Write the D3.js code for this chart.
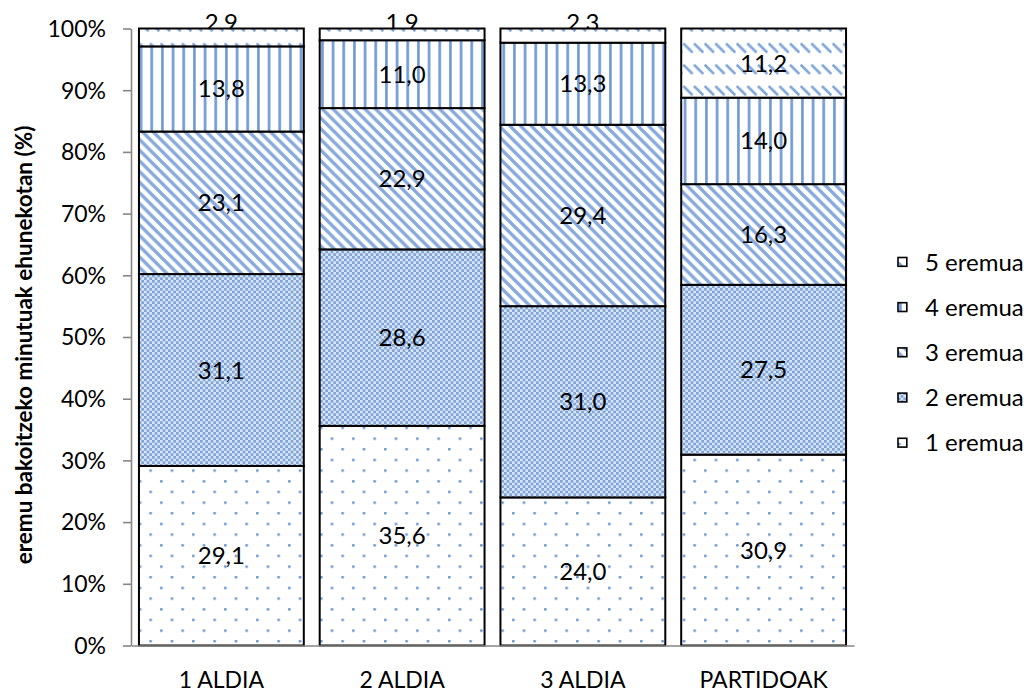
<!DOCTYPE html>
<html>
<head>
<meta charset="utf-8">
<script src="https://cdn.jsdelivr.net/npm/d3@7"></script>
<style>
  html, body { margin: 0; padding: 0; background: #fff; }
  svg { display: block; }
  text { font-family: Lato, "Open Sans", sans-serif; fill: #000; }
</style>
</head>
<body>
<svg id="chart" width="1032" height="695"></svg>
<script>
// Share of minutes spent in each intensity zone, per half and for the full match
const categories = ["1 ALDIA", "2 ALDIA", "3 ALDIA", "PARTIDOAK"];
const zones = ["1 eremua", "2 eremua", "3 eremua", "4 eremua", "5 eremua"];
const zone1 = [29.1, 35.6, 24.0, 30.9];
const zone2 = [31.1, 28.6, 31.0, 27.5];
const zone3 = [23.1, 22.9, 29.4, 16.3];
const zone4 = [13.8, 11.0, 13.3, 14.0];
const zone5 = [2.9, 1.9, 2.3, 11.2];
const yTicks = [0, 0.1, 0.2, 0.3, 0.4, 0.5, 0.6, 0.7, 0.8, 0.9, 1];
const yTitle = "eremu bakoitzeko minutuak ehunekotan (%)";

const zoneValues = [zone1, zone2, zone3, zone4, zone5];
const rows = categories.map((c, i) => {
  const r = { category: c };
  zones.forEach((z, k) => { r[z] = zoneValues[k][i]; });
  return r;
});

const svg = d3.select("#chart");

// ---- fill patterns ----
const defs = svg.append("defs");
const u = 8 / 3; // one pattern cell

// 1 eremua: sparse staggered dots
const p1 = defs.append("pattern").attr("id", "pat-z1")
  .attr("patternUnits", "userSpaceOnUse").attr("width", 8 * u).attr("height", 8 * u);
p1.append("rect").attr("width", 8 * u).attr("height", 8 * u).attr("fill", "#fff");
[[0.5, 0.5], [4.5, 4.5]].forEach(([cx, cy]) =>
  p1.append("circle").attr("cx", cx * u).attr("cy", cy * u).attr("r", 1.45)
    .attr("fill", "#6a97d6"));

// 2 eremua: 50% checker
const p2 = defs.append("pattern").attr("id", "pat-z2")
  .attr("patternUnits", "userSpaceOnUse").attr("width", 2 * u).attr("height", 2 * u);
p2.append("rect").attr("width", 2 * u).attr("height", 2 * u).attr("fill", "#d9e4f4");
p2.append("rect").attr("width", u).attr("height", u).attr("fill", "#7ea4da");
p2.append("rect").attr("x", u).attr("y", u).attr("width", u).attr("height", u).attr("fill", "#7ea4da");

// 3 eremua: downward diagonal stripes
const p3 = defs.append("pattern").attr("id", "pat-z3")
  .attr("patternUnits", "userSpaceOnUse").attr("width", 4 * u).attr("height", 4 * u);
p3.append("rect").attr("width", 4 * u).attr("height", 4 * u).attr("fill", "#fff");
[-4 * u, 0, 4 * u].forEach(c =>
  p3.append("line").attr("x1", -u).attr("y1", -u + c).attr("x2", 5 * u).attr("y2", 5 * u + c)
    .attr("stroke", "#86a9dd").attr("stroke-width", 3.3));

// 4 eremua: thin vertical lines
const p4 = defs.append("pattern").attr("id", "pat-z4")
  .attr("patternUnits", "userSpaceOnUse").attr("width", 4 * u).attr("height", 4 * u);
p4.append("rect").attr("width", 4 * u).attr("height", 4 * u).attr("fill", "#fff");
p4.append("rect").attr("x", 0.4 * u).attr("width", u).attr("height", 4 * u).attr("fill", "#6f9bd8");

// 5 eremua: dashed downward diagonal
const p5 = defs.append("pattern").attr("id", "pat-z5")
  .attr("patternUnits", "userSpaceOnUse").attr("width", 8 * u).attr("height", 8 * u);
p5.append("rect").attr("width", 8 * u).attr("height", 8 * u).attr("fill", "#fff");
[0, 4 * u, 8 * u].forEach(x0 =>
  p5.append("line").attr("x1", x0 - 4 * u + 0.3 * u).attr("y1", 0.3 * u)
    .attr("x2", x0 - 0.3 * u).attr("y2", 3.7 * u)
    .attr("stroke", "#7ea4da").attr("stroke-width", 2.2));
[0, 4 * u, 8 * u].forEach(x0 =>
  p5.append("line").attr("x1", x0 + 0.3 * u).attr("y1", 0.3 * u)
    .attr("x2", x0 + 4 * u - 0.3 * u).attr("y2", 3.7 * u)
    .attr("stroke", "#7ea4da").attr("stroke-width", 2.2));

const fillFor = d3.scaleOrdinal().domain(zones)
  .range(["url(#pat-z1)", "url(#pat-z2)", "url(#pat-z3)", "url(#pat-z4)", "url(#pat-z5)"]);

// ---- scales ----
const plot = { left: 131, right: 854, top: 28.5, bottom: 645.5 };
const x = d3.scaleBand().domain(categories)
  .range([plot.left, plot.right]).paddingInner(0.088).paddingOuter(0.044);
const y = d3.scaleLinear().domain([0, 1]).range([plot.bottom, plot.top]);

const series = d3.stack().keys(zones).offset(d3.stackOffsetExpand)(rows);

const fmt = d3.formatLocale({ decimal: ",", thousands: ".", grouping: [3], currency: ["", "€"] }).format(".1f");
const pct = d3.format(".0%");

// labels that do not fit inside their segment sit just above it, under the bars
const underLayer = svg.append("g");
const barLayer = svg.append("g");
const labelLayer = svg.append("g");

series.forEach(s => {
  barLayer.selectAll(null).data(s).join("rect")
    .attr("x", d => x(d.data.category))
    .attr("y", d => y(d[1]))
    .attr("width", x.bandwidth())
    .attr("height", d => y(d[0]) - y(d[1]))
    .attr("fill", fillFor(s.key))
    .attr("stroke", "#000")
    .attr("stroke-width", 2);

  s.forEach(d => {
    const top = y(d[1]), bot = y(d[0]);
    const h = bot - top;
    const value = d.data[s.key];
    const small = h < 24;
    (small ? underLayer : labelLayer).append("text")
      .attr("x", x(d.data.category) + x.bandwidth() / 2)
      .attr("y", small ? top + 2 : (top + bot) / 2 + 8.5)
      .attr("text-anchor", "middle")
      .attr("font-size", 24)
      .text(fmt(value));
  });
});

// ---- axes ----
const yAxis = svg.append("g")
  .attr("transform", `translate(${plot.left},0)`)
  .call(d3.axisLeft(y).tickValues(yTicks).tickFormat(pct).tickSize(8).tickSizeOuter(0).tickPadding(17));
yAxis.select(".domain").attr("stroke", "#868686").attr("stroke-width", 1.6);
yAxis.selectAll(".tick line").attr("stroke", "#868686").attr("stroke-width", 1.6);
yAxis.selectAll(".tick text")
  .attr("font-family", "Lato, 'Open Sans', sans-serif").attr("font-size", 23)
  .attr("fill", "#000").attr("dy", "0.34em");

const xAxis = svg.append("g")
  .attr("transform", `translate(0,${plot.bottom})`)
  .call(d3.axisBottom(x).tickSize(0).tickSizeOuter(0).tickPadding(26));
xAxis.select(".domain").attr("stroke", "#868686").attr("stroke-width", 1.6);
xAxis.selectAll(".tick text")
  .attr("font-family", "Lato, 'Open Sans', sans-serif").attr("font-size", 23)
  .attr("fill", "#000");

// y axis title
svg.append("text")
  .attr("transform", `translate(32,${(125 + 565) / 2}) rotate(-90)`)
  .attr("text-anchor", "middle")
  .attr("font-size", 22.5)
  .attr("font-weight", "bold")
  .text(yTitle);

// ---- legend (top to bottom: 5 ... 1) ----
const legendZones = zones.slice().reverse();
const legend = svg.append("g").attr("transform", "translate(898,262)");
const item = legend.selectAll("g").data(legendZones).join("g")
  .attr("transform", (d, i) => `translate(0,${i * 45.2})`);
item.append("rect")
  .attr("x", 0).attr("y", -4.5).attr("width", 8.8).attr("height", 8.8)
  .attr("fill", d => fillFor(d)).attr("stroke", "#000").attr("stroke-width", 1.6);
item.append("text")
  .attr("x", 27).attr("y", 8.5)
  .attr("font-size", 24)
  .text(d => d);
</script>
</body>
</html>
